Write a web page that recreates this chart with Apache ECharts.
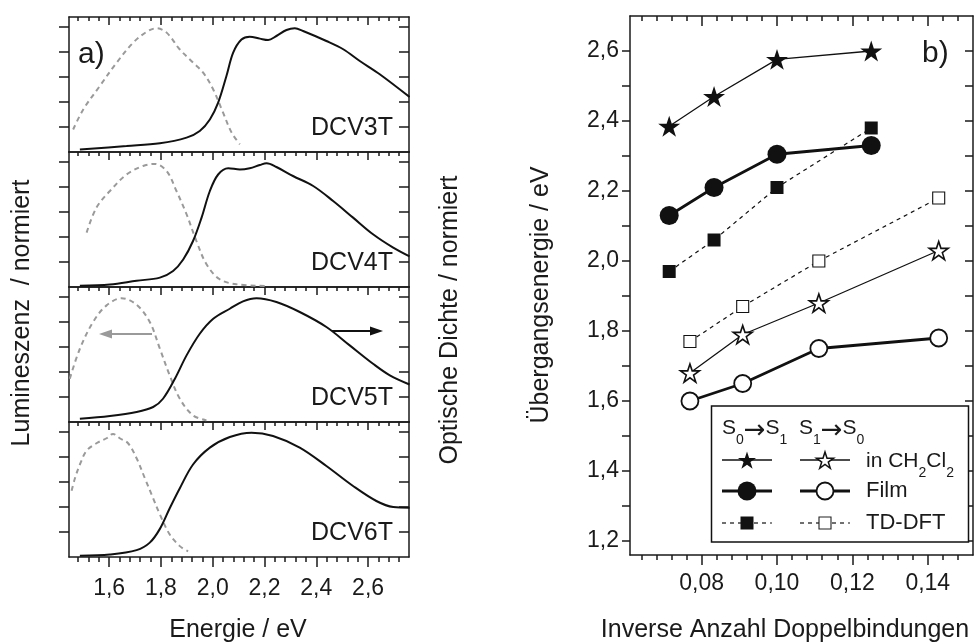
<!DOCTYPE html>
<html><head><meta charset="utf-8">
<script src="https://cdn.jsdelivr.net/npm/echarts@6/dist/echarts.min.js"></script>
<style>html,body{margin:0;padding:0;background:#fff}#c{width:979px;height:644px}</style>
</head><body><div id="c"></div>
<script>
const FONT = 'Liberation Sans, Arial, Helvetica, sans-serif';
const INK = '#1a1a1a';

// ---------- panel a) : normalised spectra vs. energy ----------
const molecules = ['DCV3T', 'DCV4T', 'DCV5T', 'DCV6T'];
const energyMajorTicks = [1.6, 1.8, 2.0, 2.2, 2.4, 2.6];
const energyMinorTicks = [1.48, 1.52, 1.56, 1.64, 1.68, 1.72, 1.76, 1.84, 1.88, 1.92, 1.96,
  2.04, 2.08, 2.12, 2.16, 2.24, 2.28, 2.32, 2.36, 2.44, 2.48, 2.52, 2.56, 2.64, 2.68, 2.72];
const normTicks = [0.2, 0.4, 0.6, 0.8, 1.0];

// optical density (solid) [energy eV, normalised]
const absDCV3T = [[1.487,0.02],[1.667,0.048],[1.796,0.07],[1.899,0.115],[1.95,0.168],[1.989,0.26],[2.021,0.395],[2.053,0.608],[2.079,0.795],[2.111,0.90],[2.143,0.923],[2.182,0.907],[2.214,0.896],[2.246,0.928],[2.285,0.976],[2.317,0.99],[2.349,0.968],[2.439,0.888],[2.504,0.822],[2.568,0.728],[2.645,0.622],[2.76,0.44]];
const absDCV4T = [[1.487,0.01],[1.603,0.02],[1.706,0.05],[1.796,0.075],[1.847,0.128],[1.886,0.22],[1.924,0.368],[1.957,0.555],[1.989,0.768],[2.021,0.90],[2.06,0.95],[2.105,0.94],[2.143,0.95],[2.182,0.976],[2.208,0.99],[2.246,0.96],[2.31,0.888],[2.388,0.808],[2.465,0.688],[2.542,0.555],[2.619,0.422],[2.697,0.315],[2.76,0.245]];
const absDCV5T = [[1.487,0.026],[1.603,0.048],[1.706,0.08],[1.77,0.12],[1.808,0.186],[1.854,0.346],[1.899,0.533],[1.95,0.706],[2.002,0.826],[2.066,0.906],[2.117,0.965],[2.169,0.99],[2.246,0.96],[2.336,0.88],[2.439,0.76],[2.529,0.613],[2.619,0.466],[2.684,0.373],[2.76,0.30]];
const absDCV6T = [[1.487,0.01],[1.603,0.02],[1.706,0.055],[1.757,0.115],[1.796,0.225],[1.834,0.39],[1.873,0.55],[1.924,0.74],[1.989,0.875],[2.066,0.96],[2.15,0.995],[2.233,0.968],[2.336,0.875],[2.439,0.728],[2.542,0.568],[2.632,0.448],[2.697,0.40],[2.76,0.395]];

// luminescence (dashed grey) [energy eV, normalised]
const lumDCV3T = [[1.461,0.18],[1.50,0.34],[1.564,0.528],[1.629,0.715],[1.693,0.875],[1.744,0.96],[1.783,0.99],[1.822,0.955],[1.873,0.82],[1.924,0.715],[1.963,0.635],[2.002,0.50],[2.04,0.315],[2.073,0.155],[2.105,0.062]];
const lumDCV4T = [[1.513,0.435],[1.551,0.635],[1.603,0.768],[1.667,0.90],[1.731,0.968],[1.776,0.985],[1.822,0.928],[1.86,0.768],[1.899,0.582],[1.937,0.368],[1.976,0.182],[2.027,0.062],[2.092,0.022],[2.208,0.008]];
const lumDCV5T = [[1.448,0.346],[1.487,0.586],[1.538,0.80],[1.59,0.933],[1.648,0.99],[1.706,0.938],[1.757,0.80],[1.796,0.586],[1.834,0.373],[1.873,0.186],[1.924,0.053],[1.976,0.013]];
const lumDCV6T = [[1.455,0.53],[1.468,0.63],[1.487,0.74],[1.513,0.85],[1.551,0.91],[1.59,0.95],[1.615,0.985],[1.641,0.95],[1.673,0.91],[1.706,0.79],[1.738,0.63],[1.77,0.47],[1.796,0.34],[1.834,0.18],[1.873,0.087],[1.905,0.045]];

// ---------- panel b) : transition energy vs. inverse number of double bonds ----------
const invBondsS0S1 = [0.0714, 0.0833, 0.1000, 0.1250];
const invBondsS1S0 = [0.0769, 0.0909, 0.1111, 0.1429];
const solutionS0S1 = [2.385, 2.47, 2.576, 2.60];
const solutionS1S0 = [1.68, 1.79, 1.88, 2.03];
const filmS0S1 = [2.13, 2.21, 2.305, 2.33];
const filmS1S0 = [1.60, 1.65, 1.75, 1.78];
const dftS0S1 = [1.97, 2.06, 2.21, 2.38];
const dftS1S0 = [1.77, 1.87, 2.00, 2.18];
const invMajorTicks = [0.08, 0.10, 0.12, 0.14];
const invMinorTicks = [0.064,0.068,0.072,0.076,0.084,0.088,0.092,0.096,0.104,0.108,0.112,0.116,0.124,0.128,0.132,0.136,0.144,0.148];
const energyTicksB = [1.2,1.3,1.4,1.5,1.6,1.7,1.8,1.9,2.0,2.1,2.2,2.3,2.4,2.5,2.6];
const energyLabelsB = [1.2, 1.4, 1.6, 1.8, 2.0, 2.2, 2.4, 2.6];

const absAll = [absDCV3T, absDCV4T, absDCV5T, absDCV6T];
const lumAll = [lumDCV3T, lumDCV4T, lumDCV5T, lumDCV6T];

const E_MIN = 1.445, E_MAX = 2.758;
const panelTop = [17, 152, 287, 422], panelH = 135;

const lineSt = { color: INK, width: 1.5 };
const comma = d => v => v.toFixed(d).replace('.', ',');
const lblStyle = { color: INK, fontSize: 23, fontFamily: FONT };

function starPath() {
  const pts = [];
  for (let k = 0; k < 10; k++) {
    const r = k % 2 ? 0.382 : 1, a = -Math.PI / 2 + k * Math.PI / 5;
    pts.push((r * Math.cos(a)).toFixed(4) + ',' + (r * Math.sin(a)).toFixed(4));
  }
  return 'path://M' + pts.join(' L') + ' Z';
}
function starPts(cx, cy, R) {
  const pts = [];
  for (let k = 0; k < 10; k++) {
    const r = k % 2 ? R * 0.382 : R, a = -Math.PI / 2 + k * Math.PI / 5;
    pts.push([cx + r * Math.cos(a), cy + r * Math.sin(a)]);
  }
  return pts;
}
const STAR = starPath();

const grids = [], xAxes = [], yAxes = [], series = [];
function xAx(o) {
  return Object.assign({ type: 'value', min: E_MIN, max: E_MAX, splitLine: { show: false },
    axisLine: { show: false, onZero: false, lineStyle: lineSt },
    axisLabel: { show: false }, axisTick: { show: false } }, o);
}

for (let i = 0; i < 4; i++) {
  grids.push({ left: 69, width: 340, top: panelTop[i], height: panelH });
  const last = i === 3;
  xAxes.push(xAx({ gridIndex: i, position: 'bottom',
    axisLine: { show: true, onZero: false, lineStyle: lineSt },
    axisTick: { show: last, inside: false, length: 10, customValues: energyMajorTicks, lineStyle: lineSt },
    axisLabel: { show: last, customValues: energyMajorTicks, formatter: comma(1), margin: 20, ...lblStyle } }));
  const sx = xAxes.length - 1;
  if (last) {
    xAxes.push(xAx({ gridIndex: i, position: 'bottom',
      axisTick: { show: true, inside: false, length: 5, customValues: energyMinorTicks, lineStyle: lineSt } }));
  }
  xAxes.push(xAx({ gridIndex: i, position: 'top',
    axisLine: { show: true, onZero: false, lineStyle: lineSt },
    axisTick: { show: true, inside: true, length: 8, customValues: energyMajorTicks, lineStyle: lineSt } }));
  xAxes.push(xAx({ gridIndex: i, position: 'top',
    axisTick: { show: true, inside: true, length: 4, customValues: energyMinorTicks, lineStyle: lineSt } }));
  yAxes.push({ type: 'value', gridIndex: i, position: 'left', min: 0, max: 1.08, splitLine: { show: false },
    axisLine: { show: true, onZero: false, lineStyle: lineSt }, axisLabel: { show: false },
    axisTick: { show: true, inside: false, length: 10, customValues: normTicks, lineStyle: lineSt } });
  const sy = yAxes.length - 1;
  yAxes.push({ type: 'value', gridIndex: i, position: 'right', min: 0, max: 1.08, splitLine: { show: false },
    axisLine: { show: true, onZero: false, lineStyle: lineSt }, axisLabel: { show: false },
    axisTick: { show: true, inside: true, length: 10, customValues: normTicks, lineStyle: lineSt } });

  series.push({ type: 'line', xAxisIndex: sx, yAxisIndex: sy, data: lumAll[i], smooth: 0.35,
    showSymbol: false, lineStyle: { color: '#9a9a9a', width: 2, type: [5, 4] } });
  series.push({ type: 'line', xAxisIndex: sx, yAxisIndex: sy, data: absAll[i], smooth: 0.35,
    showSymbol: false, lineStyle: { color: '#111', width: 2 } });
}

// panel b grid
const gb = 4;
grids.push({ left: 630, right: 6, top: 16, bottom: 89 });
const bx = { type: 'value', gridIndex: gb, min: 0.061, max: 0.152, splitLine: { show: false } };
xAxes.push(Object.assign({}, bx, { position: 'bottom',
  axisLine: { show: true, onZero: false, lineStyle: lineSt },
  axisTick: { show: true, inside: false, length: 10, customValues: invMajorTicks, lineStyle: lineSt },
  axisLabel: { show: true, customValues: invMajorTicks, formatter: comma(2), margin: 17, ...lblStyle } }));
const bxi = xAxes.length - 1;
xAxes.push(Object.assign({}, bx, { position: 'bottom', axisLine: { show: false, onZero: false }, axisLabel: { show: false },
  axisTick: { show: true, inside: false, length: 5, customValues: invMinorTicks, lineStyle: lineSt } }));
xAxes.push(Object.assign({}, bx, { position: 'top', axisLine: { show: true, onZero: false, lineStyle: lineSt }, axisLabel: { show: false },
  axisTick: { show: true, inside: true, length: 10, customValues: invMajorTicks, lineStyle: lineSt } }));
xAxes.push(Object.assign({}, bx, { position: 'top', axisLine: { show: false, onZero: false }, axisLabel: { show: false },
  axisTick: { show: true, inside: true, length: 5, customValues: invMinorTicks, lineStyle: lineSt } }));
const by = { type: 'value', gridIndex: gb, min: 1.16, max: 2.70, splitLine: { show: false } };
yAxes.push(Object.assign({}, by, { position: 'left', axisLine: { show: true, onZero: false, lineStyle: lineSt },
  axisTick: { show: true, inside: false, length: 8, customValues: energyTicksB, lineStyle: lineSt },
  axisLabel: { show: true, customValues: energyLabelsB, formatter: comma(1), margin: 11, ...lblStyle } }));
const byi = yAxes.length - 1;
yAxes.push(Object.assign({}, by, { position: 'right', axisLine: { show: true, onZero: false, lineStyle: lineSt },
  axisLabel: { show: false },
  axisTick: { show: true, inside: true, length: 8, customValues: energyTicksB, lineStyle: lineSt } }));

const pairs = (xs, ys) => xs.map((x, k) => [x, ys[k]]);
function bSeries(data, symbol, size, filled, lineW, dashed, bw) {
  return { type: 'line', xAxisIndex: bxi, yAxisIndex: byi, data, symbol, symbolSize: size, symbolKeepAspect: true,
    showSymbol: true, lineStyle: { color: '#111', width: lineW, type: dashed ? [4, 4] : 'solid' },
    itemStyle: filled ? { color: '#111' } : { color: '#fff', borderColor: '#111', borderWidth: bw || 1.5 } };
}
series.push(bSeries(pairs(invBondsS0S1, dftS0S1), 'rect', 13, true, 1.2, true));
series.push(bSeries(pairs(invBondsS1S0, dftS1S0), 'rect', 12, false, 1.2, true, 1.1));
series.push(bSeries(pairs(invBondsS0S1, solutionS0S1), STAR, 22, true, 1.3, false));
series.push(bSeries(pairs(invBondsS1S0, solutionS1S0), STAR, 19, false, 1.3, false, 1.6));
series.push(bSeries(pairs(invBondsS0S1, filmS0S1), 'circle', 19, true, 2.8, false));
series.push(bSeries(pairs(invBondsS1S0, filmS1S0), 'circle', 17, false, 2.8, false, 1.8));

// ---------- annotations ----------
function txt(text, x, y, size, opts) {
  return Object.assign({ type: 'text', x, y, z: 100, style: Object.assign({ text, fontSize: size, fontFamily: FONT, fill: INK,
    align: 'center', verticalAlign: 'middle', textAlign: 'center', textVerticalAlign: 'middle' }, (opts && opts.style) || {}) },
    opts && opts.rotation ? { rotation: opts.rotation } : {});
}
const left = { align: 'left', textAlign: 'left' };
const right = { align: 'right', textAlign: 'right' };
const graphics = [
  txt('Lumineszenz  / normiert', 22, 313, 25, { rotation: Math.PI / 2 }),
  txt('Optische Dichte / normiert', 450, 320, 25, { rotation: Math.PI / 2 }),
  txt('Übergangsenergie / eV', 541, 295, 25, { rotation: Math.PI / 2 }),
  txt('Energie / eV', 238, 630, 25),
  txt('Inverse Anzahl Doppelbindungen', 785, 630, 25),
  txt('a)', 78, 55, 30, { style: left }),
  txt('b)', 922, 54, 30, { style: left })
];
molecules.forEach((m, i) => graphics.push(txt(m, 393, panelTop[i] + panelH - 24, 25, { style: right })));
// arrows in DCV5T panel
graphics.push({ type: 'line', z: 100, shape: { x1: 152, y1: 334, x2: 108, y2: 334 }, style: { stroke: '#9a9a9a', lineWidth: 2 } });
graphics.push({ type: 'polygon', z: 100, shape: { points: [[99, 334], [112, 329.5], [112, 338.5]] }, style: { fill: '#9a9a9a' } });
graphics.push({ type: 'line', z: 100, shape: { x1: 332, y1: 331, x2: 372, y2: 331 }, style: { stroke: '#111', lineWidth: 2 } });
graphics.push({ type: 'polygon', z: 100, shape: { points: [[383, 331], [370, 326.5], [370, 335.5]] }, style: { fill: '#111' } });

// legend box
const rich = { n: { fontSize: 21, lineHeight: 24, verticalAlign: 'top', fontFamily: FONT, color: INK },
               a: { fontSize: 26, lineHeight: 24, verticalAlign: 'top', fontFamily: 'DejaVu Sans, sans-serif', color: INK },
               s: { fontSize: 14, lineHeight: 14, padding: [15, 0, 0, 0], verticalAlign: 'top', fontFamily: FONT, color: INK } };
function richTxt(text, x, y) {
  return { type: 'text', x, y, z: 101, style: { text, rich, fontFamily: FONT, fontSize: 21, fill: INK,
    align: 'left', textAlign: 'left', verticalAlign: 'middle', textVerticalAlign: 'middle' } };
}
graphics.push({ type: 'rect', z: 99, shape: { x: 711.5, y: 406, width: 257, height: 136 }, style: { fill: '#fff', stroke: '#111', lineWidth: 1.5 } });
graphics.push(richTxt('{n|S}{s|0}{a|→}{n|S}{s|1}', 722, 430));
graphics.push(richTxt('{n|S}{s|1}{a|→}{n|S}{s|0}', 799, 430));
graphics.push(richTxt('{n|in CH}{s|2}{n|Cl}{s|2}', 866, 463));
graphics.push(txt('Film', 866, 491, 22, { style: left }));
graphics.push(txt('TD-DFT', 866, 523, 22, { style: left }));
const rowY = [460, 491, 523];
const colX = [747, 825];
const lw = [1.3, 2.8, 1.2];
for (let r = 0; r < 3; r++) for (let c = 0; c < 2; c++) {
  graphics.push({ type: 'line', z: 101, shape: { x1: colX[c] - 25, y1: rowY[r], x2: colX[c] + 25, y2: rowY[r] },
    style: { stroke: '#111', lineWidth: lw[r], lineDash: r === 2 ? [4, 4] : null } });
}
graphics.push({ type: 'polygon', z: 102, shape: { points: starPts(colX[0], rowY[0] + 1, 9.5) }, style: { fill: '#111' } });
graphics.push({ type: 'polygon', z: 102, shape: { points: starPts(colX[1], rowY[0] + 1, 9) }, style: { fill: '#fff', stroke: '#111', lineWidth: 1.5 } });
graphics.push({ type: 'circle', z: 102, shape: { cx: colX[0], cy: rowY[1], r: 9.5 }, style: { fill: '#111' } });
graphics.push({ type: 'circle', z: 102, shape: { cx: colX[1], cy: rowY[1], r: 8.5 }, style: { fill: '#fff', stroke: '#111', lineWidth: 1.8 } });
graphics.push({ type: 'rect', z: 102, shape: { x: colX[0] - 6.5, y: rowY[2] - 6.5, width: 13, height: 13 }, style: { fill: '#111' } });
graphics.push({ type: 'rect', z: 102, shape: { x: colX[1] - 6, y: rowY[2] - 6, width: 12, height: 12 }, style: { fill: '#fff', stroke: '#222', lineWidth: 1.1 } });

const chart = echarts.init(document.getElementById('c'), null, { renderer: 'canvas' });
chart.setOption({
  animation: false,
  backgroundColor: '#fff',
  textStyle: { fontFamily: FONT },
  grid: grids, xAxis: xAxes, yAxis: yAxes, series,
  graphic: { elements: graphics }
});
</script></body></html>
